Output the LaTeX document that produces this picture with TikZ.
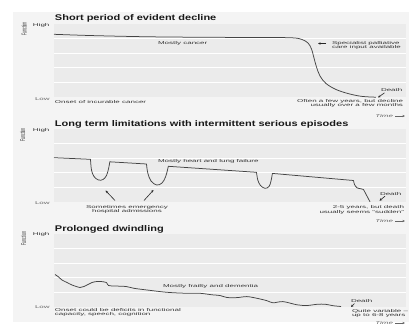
\documentclass[tikz,border=0pt]{standalone}
\usepackage{fontspec}
\usepackage{graphicx}
\setmainfont{Liberation Sans}
\usetikzlibrary{arrows.meta}
\definecolor{outerbg}{HTML}{F4F4F4}
\definecolor{panelbg}{HTML}{EBEBEB}
\definecolor{txtc}{HTML}{333333}
\definecolor{curvec}{HTML}{444444}
\newcommand{\sqz}[1]{\scalebox{1}[0.52]{#1}}
\newcommand{\ttl}[1]{\scalebox{1}[0.75]{#1}}
\tikzset{
  txt/.style={inner sep=0pt, outer sep=0pt, text=txtc, font=\fontsize{8}{8.3}\selectfont},
  ttlnode/.style={inner sep=0pt, outer sep=0pt, text=black!90, font=\fontsize{11}{12}\selectfont\bfseries},
  panel/.style={fill=panelbg, draw=none},
  gridl/.style={draw=white, line width=0.9pt},
  curve/.style={draw=curvec, line width=0.75pt, line join=round},
  pointer/.style={draw=black!85, line width=0.6pt, -{Stealth[length=2.6pt,width=2.4pt]}},
  timearrow/.style={draw=black!60, line width=0.6pt, -{Stealth[length=2.6pt,width=2.2pt]}},
}
\begin{document}
\begin{tikzpicture}[x=1pt,y=-1pt]
\useasboundingbox (0,0) rectangle (416,327);
\fill[white] (0,0) rectangle (416,327);
\fill[outerbg] (13,12) rectangle (409,322);
% panels
\foreach \t in {24,129,234} {
  \fill[panel] (54,\t) rectangle (406,{\t+73});
  \foreach \k in {1,...,4} \draw[gridl] (54,{\t+\k*14.6}) -- (406,{\t+\k*14.6});
}
% ---------- panel 1
\node[ttlnode, anchor=base west] (t1) at (55,20) {\ttl{Short period of evident decline}};
\node[txt, anchor=base west] (hi1) at (33,26) {\sqz{High}};
\node[txt, anchor=base west, text=black!60] (lo1) at (35,100.5) {\sqz{Low}};
\node[txt] (fn1) at (24,29) {\scalebox{1}[0.5]{\rotatebox{90}{\fontsize{7}{8}\selectfont Function}}};
\draw[curve] plot[smooth, tension=0.55] coordinates {(54,34.3) (93,35.6) (150,36.8) (210,37.3) (260,37.5) (292,37.8) (302,39.5) (308,43) (311.5,49) (314,58) (316.5,67) (320,76) (326,83.5) (336,89.5) (349,93.8) (362,96.4) (376,97.2)};
\node[txt, anchor=base west] (mc) at (158,44.5) {\sqz{Mostly cancer}};
\node[txt, anchor=base west] (sp) at (332,44) {\sqz{\begin{tabular}[t]{@{}l@{}}Specialist palliative\\care input available\end{tabular}}};
\coordinate (spa) at (326,43.5);
\coordinate (spb) at (318,43.5);
\draw[pointer] (spa) -- (spb);
\node[txt, anchor=base west] (d1) at (381,91.5) {\sqz{Death}};
\coordinate (d1a) at (384.5,92.8);
\coordinate (d1b) at (378,97.5);
\draw[pointer] (d1a) -- (d1b);
\node[txt, anchor=base west] (on1) at (55,103) {\sqz{Onset of incurable cancer}};
\node[txt, anchor=base east] (of1) at (403,102) {\sqz{\begin{tabular}[t]{@{}r@{}}Often a few years, but decline\\usually over a few months\end{tabular}}};
\node[txt, anchor=base east, text=black!60] (tm1) at (393,117.5) {\sqz{\textit{Time}}};
\coordinate (tm1a) at (395,116);
\coordinate (tm1b) at (405,116);
\draw[timearrow] (tm1a) -- (tm1b);
% ---------- panel 2
\node[ttlnode, anchor=base west] (t2) at (55,126) {\ttl{Long term limitations with intermittent serious episodes}};
\node[txt, anchor=base west] (hi2) at (33,131) {\sqz{High}};
\node[txt, anchor=base west, text=black!60] (lo2) at (35,204.5) {\sqz{Low}};
\node[txt] (fn2) at (22.5,135) {\scalebox{1}[0.5]{\rotatebox{90}{\fontsize{7}{8}\selectfont Function}}};
\draw[curve] (54,157.7) -- (90.5,159.3)
  -- plot[smooth,tension=0.6] coordinates {(90.5,159.3) (91.5,170) (94,176.5) (98.5,180) (103,179.5) (106.5,175.5) (108.7,168) (109.8,161.8)}
  -- (146.5,164)
  -- plot[smooth,tension=0.6] coordinates {(146.5,164) (147.8,173) (151,181) (156.7,185) (162,183) (165.5,177) (167.5,170) (168.3,166.3)}
  -- (256.5,172.3)
  -- plot[smooth,tension=0.6] coordinates {(256.5,172.3) (257.8,180) (260.5,185.5) (265,188.3) (269,186.5) (271,181) (272.4,173.4)}
  -- (353.5,180.5)
  -- plot[smooth,tension=0.5] coordinates {(353.5,180.5) (354.5,184.5) (357,187.8) (361,188.8) (363.5,189.5)}
  -- (370,201.8);
\node[txt, anchor=base west] (mh) at (158,162.5) {\sqz{Mostly heart and lung failure}};
\node[txt, anchor=base] (se) at (127,208.5) {\sqz{\begin{tabular}[t]{@{}c@{}}Sometimes emergency\\hospital admissions\end{tabular}}};
\coordinate (sa1) at (115,200.5);
\coordinate (sb1) at (105.5,190.5);
\coordinate (sa2) at (144,200.5);
\coordinate (sb2) at (153.5,190);
\draw[pointer] (sa1) -- (sb1);
\draw[pointer] (sa2) -- (sb2);
\node[txt, anchor=base west] (d2) at (380,195) {\sqz{Death}};
\coordinate (d2a) at (385,196.2);
\coordinate (d2b) at (379.5,200.7);
\draw[pointer] (d2a) -- (d2b);
\node[txt, anchor=base east] (of2) at (404,208.7) {\sqz{\begin{tabular}[t]{@{}r@{}}2-5 years, but death\\usually seems ``sudden''\end{tabular}}};
\node[txt, anchor=base east, text=black!60] (tm2) at (393,222.5) {\sqz{\textit{Time}}};
\coordinate (tm2a) at (395,221);
\coordinate (tm2b) at (405,221);
\draw[timearrow] (tm2a) -- (tm2b);
% ---------- panel 3
\node[ttlnode, anchor=base west] (t3) at (55,231) {\ttl{Prolonged dwindling}};
\node[txt, anchor=base west] (hi3) at (33,235.5) {\sqz{High}};
\node[txt, anchor=base west, text=black!60] (lo3) at (35,308.5) {\sqz{Low}};
\node[txt] (fn3) at (23.5,238.5) {\scalebox{1}[0.5]{\rotatebox{90}{\fontsize{7}{8}\selectfont Function}}};
\draw[curve] plot[smooth, tension=0.5] coordinates {(55,274.5) (58,276.5) (62,280) (67,282.5) (72,285) (80,287.5) (84,286.5) (88,284.5) (92,282.5) (97,281.5) (103,281.7) (106.5,282.5) (108.5,285.5) (115,286) (126,286.5) (134,288.3) (147,290) (167,292.3) (185,293.2) (200,293.3) (212,294.8) (220,295.5) (227,297.5) (237,297.6) (247,296.6) (257,298.3) (267,300.7) (273,302.8) (283,301.6) (297,304.8) (307,305.5) (317,304.3) (325,304.2) (333,305.7) (341,306.5)};
\node[txt, anchor=base west] (mf) at (163,287) {\sqz{Mostly frailty and dementia}};
\node[txt, anchor=base west] (d3) at (351,302.5) {\sqz{Death}};
\coordinate (d3a) at (354.5,303.5);
\coordinate (d3b) at (351,307);
\draw[pointer] (d3a) -- (d3b);
\node[txt, anchor=base west] (qv) at (352,312) {\sqz{\begin{tabular}[t]{@{}l@{}}Quite variable --\\up to 6-8 years\end{tabular}}};
\node[txt, anchor=base west] (on3) at (55,311) {\sqz{\begin{tabular}[t]{@{}l@{}}Onset could be deficits in functional\\capacity, speech, cognition\end{tabular}}};
\node[txt, anchor=base east, text=black!60] (tm3) at (393,324.5) {\sqz{\textit{Time}}};
\coordinate (tm3a) at (395,323);
\coordinate (tm3b) at (405,323);
\draw[timearrow] (tm3a) -- (tm3b);
\end{tikzpicture}
\end{document}
